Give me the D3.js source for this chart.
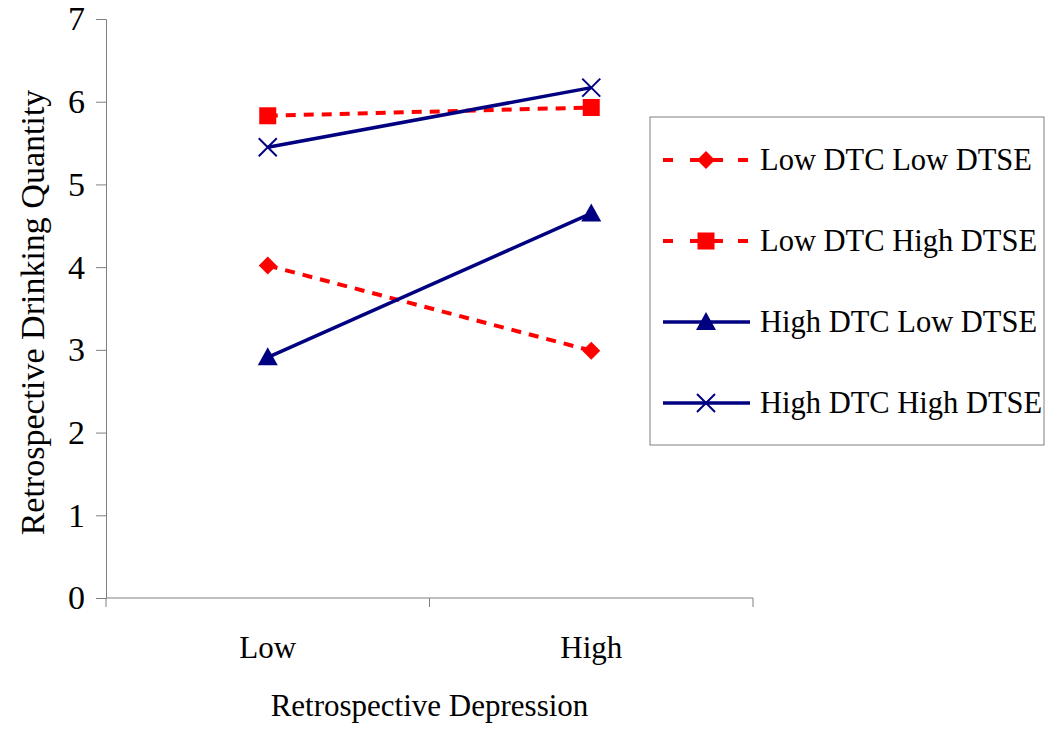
<!DOCTYPE html>
<html>
<head>
<meta charset="utf-8">
<script src="https://cdn.jsdelivr.net/npm/d3@7"></script>
<style>
  body { margin: 0; background: #fff; }
  text { font-family: "Liberation Serif", "Times New Roman", serif; fill: #000; }
</style>
</head>
<body>
<svg id="chart" width="1050" height="736"></svg>
<script>
// data
const categories = ['Low', 'High'];
const seriesNames = ['Low DTC Low DTSE', 'Low DTC High DTSE', 'High DTC Low DTSE', 'High DTC High DTSE'];
const lowDtcLowDtse = [4.02, 2.99];
const lowDtcHighDtse = [5.83, 5.93];
const highDtcLowDtse = [2.91, 4.65];
const highDtcHighDtse = [5.45, 6.17];
const yTicks = [0, 1, 2, 3, 4, 5, 6, 7];

const seriesStyle = [
  { values: lowDtcLowDtse, color: '#ff0000', dash: '10,8', width: 4, marker: 'diamond' },
  { values: lowDtcHighDtse, color: '#ff0000', dash: '10,8', width: 4, marker: 'square' },
  { values: highDtcLowDtse, color: '#000080', dash: null, width: 3.5, marker: 'triangle' },
  { values: highDtcHighDtse, color: '#000080', dash: null, width: 3.5, marker: 'cross' },
];

const svg = d3.select('#chart');
const plot = { left: 106, right: 753, top: 19, bottom: 598 };

const x = d3.scaleBand().domain(categories).range([plot.left, plot.right]);
const y = d3.scaleLinear().domain([0, 7]).range([plot.bottom, plot.top]);

// y axis
const yAxis = d3.axisLeft(y).tickValues(yTicks).tickFormat(d3.format('d'))
  .tickSize(10).tickPadding(11);
const yg = svg.append('g').attr('transform', `translate(${plot.left},0)`).call(yAxis);
yg.select('.domain').attr('stroke', '#808080');
yg.selectAll('.tick line').attr('stroke', '#808080');
yg.selectAll('.tick text').attr('font-size', 34).attr('fill', '#000')
  .style('font-family', '"Liberation Serif", serif');

// x axis: ticks at band boundaries, labels centered
const xg = svg.append('g').attr('transform', `translate(0,${plot.bottom})`);
xg.append('line').attr('x1', plot.left).attr('x2', plot.right).attr('stroke', '#808080');
const boundaries = [plot.left].concat(categories.map(c => x(c) + x.bandwidth()));
xg.selectAll('.xtick').data(boundaries).join('line')
  .attr('x1', d => d).attr('x2', d => d).attr('y1', 0).attr('y2', 9)
  .attr('stroke', '#808080');
xg.selectAll('.xlabel').data(categories).join('text')
  .attr('x', c => x(c) + x.bandwidth() / 2)
  .attr('y', 60)
  .attr('text-anchor', 'middle')
  .attr('font-size', 31)
  .text(c => c);

// axis titles
svg.append('text')
  .attr('x', (plot.left + plot.right) / 2)
  .attr('y', 716)
  .attr('text-anchor', 'middle')
  .attr('font-size', 31)
  .text('Retrospective Depression');
svg.append('text')
  .attr('transform', `translate(44,${(plot.top + plot.bottom) / 2 + 4}) rotate(-90)`)
  .attr('text-anchor', 'middle')
  .attr('font-size', 34)
  .text('Retrospective Drinking Quantity');

function drawMarker(g, type, color) {
  if (type === 'diamond') {
    g.append('path').attr('d', 'M0,-9L9,0L0,9L-9,0Z').attr('fill', color);
  } else if (type === 'square') {
    g.append('rect').attr('x', -8.5).attr('y', -8.5).attr('width', 17).attr('height', 17).attr('fill', color);
  } else if (type === 'triangle') {
    g.append('path').attr('d', 'M0,-10L10,8L-10,8Z').attr('fill', color);
  } else if (type === 'cross') {
    g.append('path').attr('d', 'M-9,-9L9,9M-9,9L9,-9')
      .attr('stroke', color).attr('stroke-width', 2).attr('fill', 'none');
  }
}

const line = d3.line()
  .x((d, i) => x(categories[i]) + x.bandwidth() / 2)
  .y(d => y(d));

seriesStyle.forEach(s => {
  svg.append('path')
    .datum(s.values)
    .attr('d', line)
    .attr('fill', 'none')
    .attr('stroke', s.color)
    .attr('stroke-width', s.width)
    .attr('stroke-dasharray', s.dash);
  s.values.forEach((v, i) => {
    const g = svg.append('g')
      .attr('transform', `translate(${x(categories[i]) + x.bandwidth() / 2},${y(v)})`);
    drawMarker(g, s.marker, s.color);
  });
});

// legend
const legend = svg.append('g').attr('transform', 'translate(650,117)');
legend.append('rect')
  .attr('x', 0).attr('y', 0).attr('width', 394).attr('height', 328)
  .attr('fill', '#fff').attr('stroke', '#808080').attr('stroke-width', 1);
seriesNames.forEach((name, i) => {
  const s = seriesStyle[i];
  const cy = 43 + i * 81;
  legend.append('line')
    .attr('x1', 13).attr('x2', 100).attr('y1', cy).attr('y2', cy)
    .attr('stroke', s.color).attr('stroke-width', s.width)
    .attr('stroke-dasharray', s.dash ? '10,17,33,15,10' : null);
  drawMarker(legend.append('g').attr('transform', `translate(56,${cy})`), s.marker, s.color);
  legend.append('text')
    .attr('x', 110).attr('y', cy + 10)
    .attr('font-size', 30.5)
    .text(name);
});
</script>
</body>
</html>
